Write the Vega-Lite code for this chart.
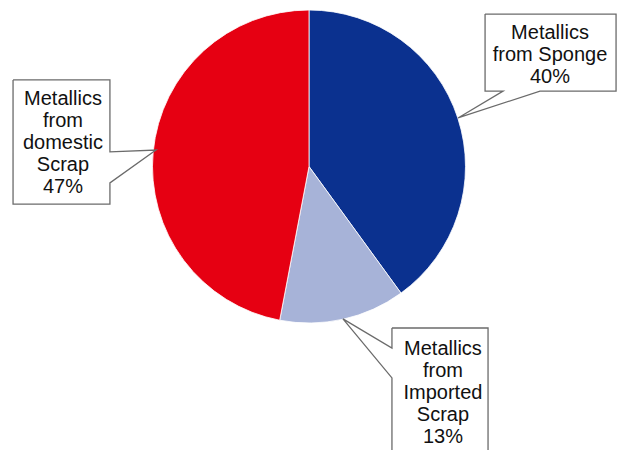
{
  "$schema": "https://vega.github.io/schema/vega-lite/v6.json",
  "width": 618,
  "height": 333,
  "autosize": {"type": "none"},
  "padding": {"left": 0, "top": 0, "right": 6, "bottom": 117},
  "background": "white",
  "config": {"view": {"stroke": null}},
  "datasets": {
    "slices": [
      {"seq": 1, "source": "Metallics from Sponge", "share": 40},
      {"seq": 2, "source": "Metallics from Imported Scrap", "share": 13},
      {"seq": 3, "source": "Metallics from domestic Scrap", "share": 47}
    ],
    "callouts": [
      {"source": "Metallics from Sponge", "wrapped": "Metallics\nfrom Sponge", "tx": 1.540, "ty": 0.815},
      {"source": "Metallics from Imported Scrap", "wrapped": "Metallics\nfrom\nImported\nScrap", "tx": 0.856, "ty": -1.204},
      {"source": "Metallics from domestic Scrap", "wrapped": "Metallics\nfrom\ndomestic\nScrap", "tx": -1.572, "ty": 0.391}
    ],
    "outlines": [
      {"source": "Metallics from Sponge", "v": 1, "x": 1.125, "y": 0.974},
      {"source": "Metallics from Sponge", "v": 2, "x": 1.962, "y": 0.974},
      {"source": "Metallics from Sponge", "v": 3, "x": 1.962, "y": 0.482},
      {"source": "Metallics from Sponge", "v": 4, "x": 1.476, "y": 0.482},
      {"source": "Metallics from Sponge", "v": 5, "x": 0.952, "y": 0.310},
      {"source": "Metallics from Sponge", "v": 6, "x": 1.240, "y": 0.482},
      {"source": "Metallics from Sponge", "v": 7, "x": 1.125, "y": 0.482},
      {"source": "Metallics from Sponge", "v": 8, "x": 1.125, "y": 0.974},

      {"source": "Metallics from domestic Scrap", "v": 1, "x": -1.891, "y": 0.553},
      {"source": "Metallics from domestic Scrap", "v": 2, "x": -1.272, "y": 0.553},
      {"source": "Metallics from domestic Scrap", "v": 3, "x": -1.272, "y": 0.093},
      {"source": "Metallics from domestic Scrap", "v": 4, "x": -0.978, "y": 0.105},
      {"source": "Metallics from domestic Scrap", "v": 5, "x": -1.272, "y": -0.105},
      {"source": "Metallics from domestic Scrap", "v": 6, "x": -1.272, "y": -0.240},
      {"source": "Metallics from domestic Scrap", "v": 7, "x": -1.891, "y": -0.240},
      {"source": "Metallics from domestic Scrap", "v": 8, "x": -1.891, "y": 0.553},

      {"source": "Metallics from Imported Scrap", "v": 1, "x": 0.530, "y": -1.032},
      {"source": "Metallics from Imported Scrap", "v": 2, "x": 1.144, "y": -1.032},
      {"source": "Metallics from Imported Scrap", "v": 3, "x": 1.144, "y": -1.875},
      {"source": "Metallics from Imported Scrap", "v": 4, "x": 0.530, "y": -1.875},
      {"source": "Metallics from Imported Scrap", "v": 5, "x": 0.530, "y": -1.351},
      {"source": "Metallics from Imported Scrap", "v": 6, "x": 0.217, "y": -0.974},
      {"source": "Metallics from Imported Scrap", "v": 7, "x": 0.530, "y": -1.160},
      {"source": "Metallics from Imported Scrap", "v": 8, "x": 0.530, "y": -1.032}
    ]
  },
  "layer": [
    {
      "data": {"name": "slices"},
      "mark": {"type": "arc", "outerRadius": 156.5, "stroke": "white", "strokeWidth": 0.8},
      "encoding": {
        "theta": {"field": "share", "type": "quantitative", "stack": true},
        "order": {"field": "seq", "type": "quantitative"},
        "color": {
          "field": "source",
          "type": "nominal",
          "scale": {
            "domain": ["Metallics from Sponge", "Metallics from Imported Scrap", "Metallics from domestic Scrap"],
            "range": ["#0B318F", "#A7B3D8", "#E60012"]
          },
          "legend": null
        }
      }
    },
    {
      "data": {"name": "outlines"},
      "mark": {"type": "line", "stroke": "#6b6b6b", "strokeWidth": 1.3, "strokeJoin": "miter"},
      "encoding": {
        "x": {"field": "x", "type": "quantitative", "scale": {"domain": [-1.9744, 1.9744], "nice": false, "zero": false}, "axis": null},
        "y": {"field": "y", "type": "quantitative", "scale": {"domain": [-1.0639, 1.0639], "nice": false, "zero": false}, "axis": null},
        "detail": {"field": "source", "type": "nominal"},
        "order": {"field": "v", "type": "quantitative"}
      }
    },
    {
      "data": {"name": "callouts"},
      "transform": [
        {"lookup": "source", "from": {"data": {"name": "slices"}, "key": "source", "fields": ["share"]}},
        {"calculate": "datum.wrapped + '\\n' + datum.share + '%'", "as": "label"}
      ],
      "mark": {
        "type": "text",
        "font": "Liberation Sans",
        "fontSize": 20,
        "lineBreak": "\n",
        "lineHeight": 22,
        "align": "center",
        "baseline": "alphabetic",
        "color": "#111111"
      },
      "encoding": {
        "x": {"field": "tx", "type": "quantitative"},
        "y": {"field": "ty", "type": "quantitative"},
        "text": {"field": "label", "type": "nominal"}
      }
    }
  ]
}
